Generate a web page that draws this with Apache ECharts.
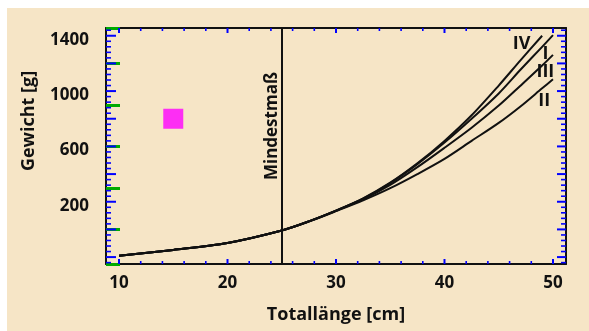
<!DOCTYPE html>
<html><head><meta charset="utf-8">
<script src="https://cdn.jsdelivr.net/npm/echarts@6/dist/echarts.min.js"></script>
<style>
html,body{margin:0;padding:0;background:#ffffff;}
#bg{position:absolute;left:7px;top:8px;width:582px;height:323px;background:#F6E5C6;}
#chart{position:absolute;left:0;top:0;width:589px;height:331px;}
</style></head><body>
<div id="bg"></div><div id="chart"></div>
<script>
// ---- data ----
const lengths  = [10, 15, 20, 25, 27.5, 30, 32.5, 35, 37.5, 40, 42.5, 45, 47, 49, 50];
const curveIV  = [-190, -148, -98, -8, 58, 136, 225, 338, 478, 640, 825, 1040, 1222, 1400, null];
const curveI   = [-190, -148, -98, -8, 58, 136, 222, 335, 472, 628, 800, 983, 1154, 1320, 1405];
const curveIII = [-190, -148, -98, -8, 58, 135, 218, 322, 450, 590, 735, 895, 1039, 1185, 1262];
const curveII  = [-190, -148, -98, -8, 57, 132, 210, 298, 400, 510, 640, 770, 889, 1020, 1085];
const seriesNames = ['IV', 'I', 'III', 'II'];
const seriesValues = [curveIV, curveI, curveIII, curveII];
const labelAnchorL = [47.1, 49.3, 49.3, 49.2];
const labelAnchorW = [1338, 1269, 1138, 926];
const minLength = 25;
const minLengthLabel = 'Mindestmaß';
const xTickLabels = [10, 20, 30, 40, 50];
const xMinorTicks = [12,14,16,18,22,24,26,28,32,34,36,38,42,44,46,48];
const yTickLabels = [200, 600, 1000, 1400];
const yMajorTicks = [-200, 0, 200, 400, 600, 800, 1000, 1200, 1400];
const yMinorTicks = [];
for (let v = -240; v <= 1440; v += 40) { if (v % 200 !== 0) yMinorTicks.push(v); }
const xTitle = 'Totallänge [cm]';
const yTitle = 'Gewicht [g]';

const FONT = 'Open Sans';
const X_MIN = 8.8, X_MAX = 51.2, Y_MIN = -250, Y_MAX = 1456;
const GRID = {left: 106, top: 28, right: 23, bottom: 67};
const W = 589, H = 331;
const lineCol = '#111111';

const xAxisOpt = {
  type: 'value', position: 'bottom', min: X_MIN, max: X_MAX,
  axisLine: {show: true, onZero: false, lineStyle: {color: lineCol, width: 2}},
  axisTick: {show: false},
  axisLabel: {show: true, customValues: xTickLabels, formatter: v => String(v), margin: 11,
              color: '#111', fontFamily: FONT, fontWeight: 'bold', fontSize: 17},
  splitLine: {show: false},
  name: xTitle, nameLocation: 'middle', nameGap: 42,
  nameTextStyle: {color: '#111', fontFamily: FONT, fontWeight: 'bold', fontSize: 18}
};
const xTopOpt = {
  type: 'value', position: 'top', min: X_MIN, max: X_MAX,
  axisLine: {show: true, onZero: false, lineStyle: {color: lineCol, width: 2}},
  axisTick: {show: false}, axisLabel: {show: false}, splitLine: {show: false}
};
const yLeftOpt = {
  type: 'value', position: 'left', min: Y_MIN, max: Y_MAX,
  axisLine: {show: true, onZero: false, lineStyle: {color: lineCol, width: 2}},
  axisTick: {show: true, inside: true, length: 14, lineStyle: {color: '#00aa00', width: 3}},
  axisLabel: {show: true, customValues: yTickLabels, formatter: v => String(v), margin: 17,
              verticalAlign: 'top', lineHeight: 8,
              color: '#111', fontFamily: FONT, fontWeight: 'bold', fontSize: 17},
  splitLine: {show: false}
};
const yRightOpt = {
  type: 'value', position: 'right', min: Y_MIN, max: Y_MAX,
  axisLine: {show: true, onZero: false, lineStyle: {color: lineCol, width: 2}},
  axisTick: {show: false}, axisLabel: {show: false}, splitLine: {show: false}
};

const xPerPx = (X_MAX - X_MIN) / (W - GRID.left - GRID.right);
const yPerPx = (Y_MAX - Y_MIN) / (H - GRID.top - GRID.bottom);
const tickMarks = [];
function xTick(v, len, w) {
  tickMarks.push({value: [v, Y_MIN + (len / 2) * yPerPx], symbolSize: [w, len]});
  tickMarks.push({value: [v, Y_MAX - (len / 2) * yPerPx], symbolSize: [w, len]});
}
function yTick(v, lenL, lenR, w) {
  tickMarks.push({value: [X_MIN + (lenL / 2) * xPerPx, v], symbolSize: [lenL, w]});
  tickMarks.push({value: [X_MAX - (lenR / 2) * xPerPx, v], symbolSize: [lenR, w]});
}
xTickLabels.forEach(v => xTick(v, 5, 2));
xMinorTicks.forEach(v => xTick(v, 3, 1.6));
yMajorTicks.forEach(v => yTick(v, 10, 9, 2));
yMinorTicks.forEach(v => yTick(v, 5, 5, 1.6));

const series = seriesNames.map((nm, i) => {
  const data = [];
  lengths.forEach((L, j) => { if (seriesValues[i][j] != null) data.push([L, seriesValues[i][j]]); });
  const s = {
    name: nm, type: 'line', xAxisIndex: 0, yAxisIndex: 0,
    data: data, showSymbol: false, smooth: 0.3,
    lineStyle: {color: lineCol, width: 2}, silent: true,
    markPoint: {
      symbol: 'circle', symbolSize: 0, silent: true,
      data: [{coord: [labelAnchorL[i], labelAnchorW[i]], value: nm}],
      label: {show: true, position: 'inside', formatter: nm, color: '#111', fontFamily: FONT, fontWeight: 'bold', fontSize: 18}
    }
  };
  if (i === 1) {
    s.markLine = {
      silent: true, symbol: ['none', 'none'],
      lineStyle: {color: lineCol, width: 2, type: 'solid'},
      label: {show: true, formatter: minLengthLabel, position: 'insideEndTop', distance: [44, 1],
              color: '#111', fontFamily: FONT, fontWeight: 'bold', fontSize: 17},
      data: [{xAxis: minLength}]
    };
  }
  return s;
});
series.push({
  name: 'ticks', type: 'scatter', xAxisIndex: 0, yAxisIndex: 0, data: tickMarks,
  symbol: 'rect', clip: false, silent: true, z: 5,
  itemStyle: {color: '#0000ff', opacity: 1}
});
series.push({
  name: 'probe', type: 'scatter', xAxisIndex: 0, yAxisIndex: 0, data: [[15, 800]],
  symbol: 'rect', symbolSize: 20, itemStyle: {color: '#ff00ff'}
});

const chart = echarts.init(document.getElementById('chart'), null, {renderer: 'canvas'});
chart.setOption({
  animation: false,
  backgroundColor: 'transparent',
  grid: Object.assign({containLabel: false}, GRID),
  xAxis: [xAxisOpt, xTopOpt],
  yAxis: [yLeftOpt, yRightOpt],
  graphic: [{
    type: 'text', x: 28.5, y: 121, rotation: Math.PI / 2, silent: true,
    style: {text: yTitle, fill: '#111', font: 'bold 18px "Open Sans"', align: 'center', verticalAlign: 'middle'}
  }],
  series: series
});
</script>
</body></html>
